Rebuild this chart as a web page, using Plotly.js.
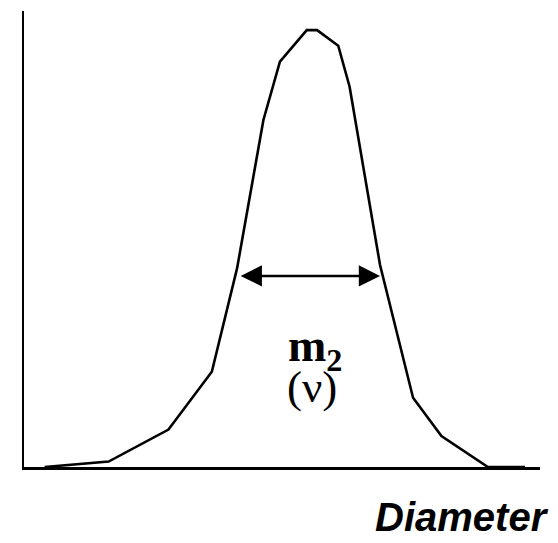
<!DOCTYPE html>
<html>
<head>
<meta charset="utf-8">
<script src="https://cdn.plot.ly/plotly-3.0.1.min.js"></script>
<style>
  html, body { margin: 0; padding: 0; background: #fff; }
  #chart { width: 558px; height: 543px; }
</style>
</head>
<body>
<div id="chart"></div>
<script>
// Size distribution curve (arbitrary units on both axes)
const diameter = [4.0, 16.4, 28.0, 36.4, 41.3, 46.4, 49.6, 54.8, 56.8, 60.9, 63.1, 69.0, 75.4, 80.9, 89.9, 97.1];
const frequency = [0, 1.2, 8.2, 20.9, 43.6, 76.1, 88.9, 95.8, 95.8, 92.4, 83.4, 44.3, 15.2, 6.8, 0, 0];

// Width marker drawn across the peak
const widthStart = 41.7;
const widthEnd = 69.0;
const widthLevel = 41.9;

const axisTitle = 'Diameter';
const widthLabel = 'm<sub>2</sub>';
const widthSymbol = '(\u03BD)';

const trace = {
  x: diameter,
  y: frequency,
  type: 'scatter',
  mode: 'lines',
  line: { color: '#000', width: 2.6, shape: 'linear' },
  hoverinfo: 'skip'
};

const layout = {
  width: 558,
  height: 543,
  margin: { l: 24, r: 18, t: 11, b: 76 },
  paper_bgcolor: '#fff',
  plot_bgcolor: '#fff',
  showlegend: false,
  xaxis: {
    range: [0, 100],
    showgrid: false, zeroline: false, showticklabels: false, ticks: '',
    showline: true, linecolor: '#000', linewidth: 3
  },
  yaxis: {
    range: [0, 100],
    showgrid: false, zeroline: false, showticklabels: false, ticks: '',
    showline: true, linecolor: '#000', linewidth: 2.5
  },
  annotations: [
    {
      x: widthEnd, y: widthLevel, ax: widthStart, ay: widthLevel,
      xref: 'x', yref: 'y', axref: 'x', ayref: 'y',
      text: '', showarrow: true, arrowside: 'end+start',
      arrowhead: 2, startarrowhead: 2,
      arrowsize: 1.7, startarrowsize: 1.7,
      arrowwidth: 2.5, arrowcolor: '#000'
    },
    {
      x: 56.4, y: 25.8, xref: 'x', yref: 'y',
      xanchor: 'center', yanchor: 'middle', showarrow: false,
      text: '<b>' + widthLabel + '</b>',
      font: { family: 'Liberation Serif, Times New Roman, serif', size: 46, color: '#000' }
    },
    {
      x: 55.8, y: 17.6, xref: 'x', yref: 'y',
      xanchor: 'center', yanchor: 'middle', showarrow: false,
      text: widthSymbol,
      font: { family: 'Liberation Serif, Times New Roman, serif', size: 45, color: '#000' }
    },
    {
      x: 1.022, y: -0.057, xref: 'paper', yref: 'paper',
      xanchor: 'right', yanchor: 'top', showarrow: false,
      text: '<b><i>' + axisTitle + '</i></b>',
      font: { family: 'Liberation Sans, Arial, sans-serif', size: 40, color: '#000' }
    }
  ]
};

Plotly.newPlot('chart', [trace], layout, { staticPlot: true, displayModeBar: false });
</script>
</body>
</html>
